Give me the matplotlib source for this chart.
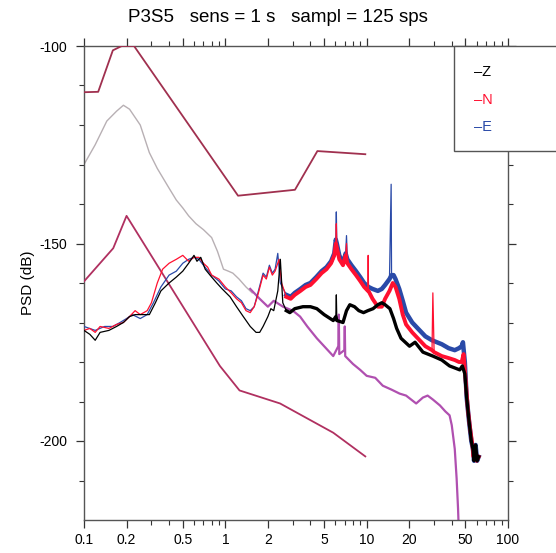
import matplotlib
matplotlib.use("Agg")
import matplotlib.pyplot as plt
from matplotlib.patches import Rectangle

plt.rcParams['font.family'] = ['Liberation Sans', 'DejaVu Sans']

# ---------------- data ----------------
hnm_f = [0.10, 0.126, 0.160, 0.185, 0.226, 0.256, 1.23, 3.11, 4.48, 9.78]
hnm_db = [-111.7, -111.6, -101.1, -100.0, -100.0, -102.8, -137.9, -136.4, -126.6, -127.4]

lnm_f = [0.10, 0.161, 0.20, 0.915, 1.26, 2.44, 5.8, 9.78]
lnm_db = [-159.6, -151.2, -143.0, -181.0, -187.2, -190.5, -197.9, -203.9]

gray_f = [0.10, 0.12, 0.145, 0.17, 0.19, 0.21, 0.25, 0.29, 0.33, 0.40, 0.45, 0.50,
          0.55, 0.62, 0.70, 0.80, 0.88, 0.97, 1.05, 1.13, 1.25, 1.40, 1.55]
gray_db = [-130, -125, -119, -116.5, -115, -116, -120, -127, -131, -136, -139, -141,
           -143, -145, -146.5, -148.5, -152, -156.5, -157, -157.5, -159, -161, -162.5]

purp_f = [1.50, 1.75, 2.00, 2.20, 2.56, 3.00, 3.38, 3.80, 4.44, 5.00, 5.80, 6.30, 6.35,
          6.40, 6.95, 7.00, 7.05, 8.00, 9.00, 10.0, 11.5, 13.0, 15.0, 17.1, 19.0, 22.4,
          25.0, 27.0, 29.4, 33.0, 36.0, 38.6, 40.0, 42.0, 43.3, 44.3, 44.8]
purp_db = [-161.5, -164, -166, -164.5, -166, -167, -168.5, -171, -174, -176, -178.5, -176, -168,
           -178, -177, -171, -178.5, -180.5, -182, -183.5, -184, -186, -187, -188, -188.5, -190.5,
           -189, -188.5, -189.5, -191, -192.5, -193.5, -196, -202, -209.5, -217, -222]

z_f = [0.10, 0.11, 0.12, 0.13, 0.15, 0.17, 0.19, 0.21, 0.23, 0.26, 0.29, 0.32, 0.35, 0.40,
       0.45, 0.50, 0.55, 0.60, 0.63, 0.67, 0.72, 0.80, 0.87, 0.95, 1.08, 1.20, 1.34, 1.50,
       1.65, 1.75, 1.85, 2.00, 2.10, 2.20, 2.35, 2.45, 2.55, 2.70, 2.86, 3.10, 3.54, 4.00,
       4.44, 5.00, 5.80, 6.05, 6.10, 6.15, 6.80, 7.20, 7.60, 8.20, 8.80, 9.50, 10.2, 11.1,
       12.0, 12.8, 13.5, 14.6, 15.5, 16.3, 17.5, 20.1, 22.0, 25.0, 29.4, 34.0, 38.6, 42.0,
       45.6, 47.5, 49.5, 51.0, 53.0, 55.0, 56.5, 57.5, 59.0, 60.5, 62.0]
z_db = [-172, -173, -174.5, -172.5, -172, -171, -170, -168.5, -168, -168, -168, -165, -162, -160,
        -158.5, -157, -155, -153, -154.5, -153.5, -156.5, -158.5, -160, -161.5, -163.5, -166, -168.5, -171,
        -172.5, -172.5, -171, -168.5, -166.5, -167, -162, -154, -165, -167, -167.5, -166.5, -166, -166,
        -166.5, -168, -169.5, -168.5, -163, -169.5, -170, -167, -165.5, -166, -167, -167.5, -167, -166.5,
        -165.5, -165, -165.5, -166.5, -169, -171.5, -174, -176, -175, -177.5, -178.5, -179.5, -181, -181.5,
        -182, -181, -183, -189, -195, -200, -202, -205, -201, -205, -204]
z_spike_f = [6.10]

n_f = [0.10, 0.11, 0.12, 0.13, 0.15, 0.17, 0.19, 0.21, 0.23, 0.25, 0.28, 0.30, 0.33, 0.36,
       0.40, 0.45, 0.50, 0.55, 0.60, 0.65, 0.70, 0.75, 0.80, 0.90, 1.00, 1.10, 1.20, 1.30,
       1.40, 1.50, 1.60, 1.70, 1.85, 1.95, 2.05, 2.15, 2.25, 2.40, 2.50, 2.70, 2.90, 3.10,
       3.40, 3.70, 4.00, 4.40, 4.80, 5.20, 5.60, 5.90, 6.05, 6.10, 6.15, 6.40, 6.80, 7.10,
       7.20, 7.30, 7.80, 8.40, 9.00, 9.60, 10.2, 10.25, 10.3, 11.0, 12.0, 12.8, 13.5, 14.5,
       15.3, 16.0, 17.0, 18.0, 19.0, 21.0, 23.0, 26.0, 29.0, 29.4, 30.0, 34.0, 38.0, 42.0,
       45.0, 47.0, 48.5, 50.0, 52.0, 54.0, 56.0, 57.0, 58.0, 60.0, 62.0]
n_db = [-172, -171.5, -172.5, -171, -171.5, -170.5, -170, -168.5, -167, -168, -167, -165, -160, -156.5,
        -155, -154, -153, -154.5, -153.5, -153.5, -155, -156, -158, -159, -161, -162.5, -164, -165,
        -167, -167.5, -166, -163, -158, -159, -156, -158, -157, -154, -160, -163.5, -164, -163,
        -162, -161, -160.5, -159, -157.5, -156.5, -155, -153, -150, -145, -151, -154, -155.5, -153,
        -150, -155, -156.5, -158, -159.5, -161, -162, -153, -162, -164, -166, -166, -164, -162,
        -160, -161, -164, -168, -170.5, -172.5, -174, -176, -177, -162.5, -177.5, -178.5, -179, -179.5,
        -180, -180, -178, -184, -192, -197, -201, -204, -202, -205, -204]
n_spike_f = [6.10, 7.20, 10.25, 29.4]

e_f = [0.10, 0.12, 0.14, 0.16, 0.18, 0.20, 0.22, 0.25, 0.28, 0.31, 0.35, 0.40, 0.45, 0.50,
       0.55, 0.60, 0.65, 0.70, 0.80, 0.90, 1.00, 1.10, 1.20, 1.30, 1.40, 1.50, 1.60, 1.70,
       1.85, 1.95, 2.05, 2.15, 2.25, 2.35, 2.45, 2.70, 2.90, 3.10, 3.40, 3.70, 4.00, 4.40,
       4.80, 5.20, 5.60, 5.90, 6.05, 6.10, 6.15, 6.40, 6.80, 7.10, 7.20, 7.30, 7.80, 8.40,
       9.00, 9.60, 10.3, 11.0, 12.0, 12.8, 13.5, 14.5, 14.9, 15.0, 15.5, 16.0, 17.0, 18.0,
       19.0, 21.0, 23.0, 26.0, 29.0, 34.0, 38.0, 42.0, 45.0, 47.0, 48.0, 49.5, 51.0, 53.0,
       55.0, 56.5, 57.5, 59.0, 60.5, 62.0]
e_db = [-171, -172, -171, -171, -170, -169, -168, -169, -168, -165, -161, -158, -157, -155,
        -154, -153.5, -154, -155.5, -158, -159.5, -161.5, -162, -163.5, -164.5, -166.5, -167, -166, -162.5,
        -157.5, -158.5, -155.5, -157.5, -156.5, -152.5, -160, -163, -163.5, -162.5, -161.5, -160.5, -160, -158.5,
        -157, -156, -154.5, -152.5, -149, -142, -150, -153, -155, -152.5, -148, -154, -155.5, -157,
        -158.5, -160, -161, -161.5, -162, -161.5, -160.5, -159, -135, -158, -158, -159, -161.5, -164.5,
        -167.5, -170, -171.5, -173.5, -174.5, -175.5, -176.5, -177, -176.5, -176, -175, -180, -189, -195,
        -200, -202, -205, -201, -205, -204]
e_spike_f = [6.10, 7.20, 14.9]

xtick_vals = [0.1, 0.2, 0.5, 1, 2, 5, 10, 20, 50, 100]
xtick_labels = ['0.1', '0.2', '0.5', '1', '2', '5', '10', '20', '50', '100']
ytick_vals = [-100, -150, -200]
ytick_labels = ['-100', '-150', '-200']
legend_names = ['Z', 'N', 'E']
legend_colors = ['#000000', '#ff1030', '#2a4aa8']

title_text = 'P3S5   sens = 1 s   sampl = 125 sps'

# ---------------- figure ----------------
fig = plt.figure(figsize=(5.56, 5.53), dpi=100)
ax = fig.add_axes([84/556, 1-520/553, (508-84)/556, (520-46)/553])

ax.plot(hnm_f, hnm_db, color='#a0304f', lw=1.3, zorder=3)
ax.plot(lnm_f, lnm_db, color='#b03060', lw=1.3, zorder=3)
ax.plot(gray_f, gray_db, color='#b8b0b4', lw=1.0, zorder=2)
ax.plot(purp_f, purp_db, color='#b050b0', lw=1.6, zorder=2)


def band(fs, vals, lo, skip):
    """subset of a series above a frequency (without spikes), drawn as a thicker noisy band"""
    pairs = [(f, v) for f, v in zip(fs, vals) if f >= lo and f not in skip]
    return [p[0] for p in pairs], [p[1] for p in pairs]


series = [(e_f, e_db, e_spike_f, legend_colors[2], 3.5, 3.2),
          (n_f, n_db, n_spike_f, legend_colors[1], 3.6, 2.8),
          (z_f, z_db, z_spike_f, legend_colors[0], 3.7, 2.4)]
for fs, vals, sk, c, z, lwb in series:
    ax.plot(fs, vals, color=c, lw=0.9, zorder=z)
    bf, bv = band(fs, vals, 2.6, sk)
    ax.plot(bf, bv, color=c, lw=lwb, zorder=z, solid_joinstyle='round')

ax.set_xscale('log')
ax.set_xlim(0.1, 100)
ax.set_ylim(-220, -100)
ax.set_xticks(xtick_vals)
ax.set_xticklabels(xtick_labels)
minor_x = [m * d for d in (0.1, 1, 10) for m in (3, 4, 6, 7, 8, 9)]
ax.set_xticks(minor_x, minor=True)
ax.set_yticks(ytick_vals)
ax.set_yticklabels(ytick_labels)
ax.set_yticks([v for v in range(-210, -100, 10) if v not in ytick_vals], minor=True)

ax.tick_params(which='both', direction='out', top=True, right=True,
               labelsize=10, colors='#333333', labelcolor='black')
ax.tick_params(which='major', length=6, width=0.9)
ax.tick_params(which='minor', length=3.5, width=0.8)
ax.tick_params(axis='y', which='major', pad=6)
for s in ax.spines.values():
    s.set_color('#555555')
    s.set_linewidth(1.0)

ax.set_ylabel('PSD (dB)', fontsize=11, labelpad=3)

fig.text(0.5, 1 - 18/553, title_text, ha='center', va='center', fontsize=13.5)

# legend box
rect = Rectangle((454/556, 1-151/553), 0.3, (151-46)/553, transform=fig.transFigure,
                 facecolor='white', edgecolor='#555555', lw=1.0, zorder=10)
fig.patches.append(rect)
for i, (nm, c) in enumerate(zip(legend_names, legend_colors)):
    y = 1 - (72 + i * 27.5) / 553
    fig.text(474/556, y, '\u2013' + nm, color=c, fontsize=10.5, va='center', ha='left', zorder=11)

fig.savefig('out.png', dpi=100)
